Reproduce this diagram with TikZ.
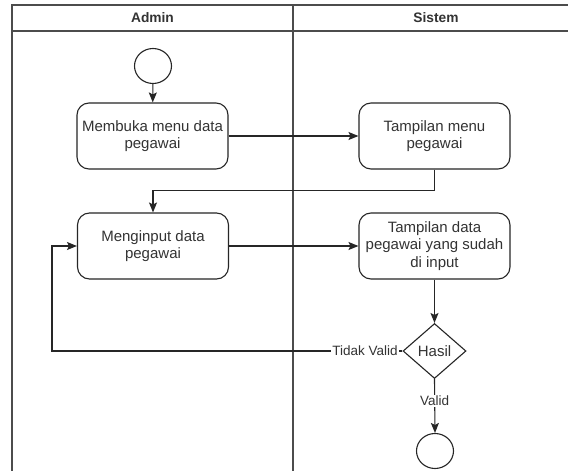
\documentclass[tikz,border=0pt]{standalone}
\usepackage{fontspec}
\setmainfont{Liberation Sans}
\usetikzlibrary{shapes.geometric,arrows.meta}
\begin{document}
\begin{tikzpicture}[x=1pt,y=-1pt,
  lane/.style={draw=black!70, line width=1.1pt},
  hdr/.style={font=\fontsize{13.75}{16}\selectfont\bfseries, text=black!80},
  act/.style={draw=black!85, line width=1.1pt, rounded corners=12pt,
    minimum width=151pt, minimum height=66pt, inner sep=2pt, align=center,
    font=\fontsize{15}{17.5}\selectfont, text=black!80},
  dec/.style={diamond, draw=black!85, line width=1.1pt, minimum width=63pt,
    minimum height=55pt, inner sep=0pt, font=\fontsize{15}{17.5}\selectfont, text=black!80},
  term/.style={ellipse, draw=black!85, line width=1.1pt, minimum width=37pt,
    minimum height=35pt, inner sep=0pt},
  flow/.style={draw=black!85, line width=1.1pt, -{Stealth[length=10pt,width=8pt,inset=2pt]}},
  lbl/.style={fill=white, inner sep=1pt, font=\fontsize{13.5}{16}\selectfont, text=black!80}]
\useasboundingbox (0,0) rectangle (568,471);
\clip (0,0) rectangle (568,471);
\fill[white] (0,0) rectangle (568,471);

% swimlane frame
\draw[lane] (12,471) -- (12,5) -- (579,5);
\draw[lane] (12,31) -- (579,31);
\draw[lane] (293,5) -- (293,471);
\node[hdr] (hadmin) at (152.5,18) {Admin};
\node[hdr] (hsistem) at (436,18) {Sistem};

% activities
\node[term] (start) at (153,66) {};
\node[act] (b1) at (152.5,136) {Membuka menu data\\pegawai};
\node[act] (b2) at (434.5,136) {Tampilan menu\\pegawai};
\node[act] (b3) at (153,246) {Menginput data\\pegawai};
\node[act] (b4) at (434.5,246) {Tampilan data\\pegawai yang sudah\\di input};
\node[dec] (hasil) at (434.5,351) {Hasil};
\node[term] (end) at (435,451) {};
\coordinate (loop) at (52,351);

% connectors
\draw[flow] (start) -- (b1);
\draw[flow] (b1) -- (b2);
\draw[flow] (b2.south) -- ++(0,21) -| (b3.north);
\draw[flow] (b3) -- (b4);
\draw[flow] (b4) -- (hasil);
\draw[flow] (hasil.west) -- (loop) |- (b3.west);
\node[lbl] (tidak) at (365,351) {Tidak Valid};
\draw[flow] (hasil.south) -- node[lbl, pos=0.4] (valid) {Valid} (end.north);
\end{tikzpicture}
\end{document}
